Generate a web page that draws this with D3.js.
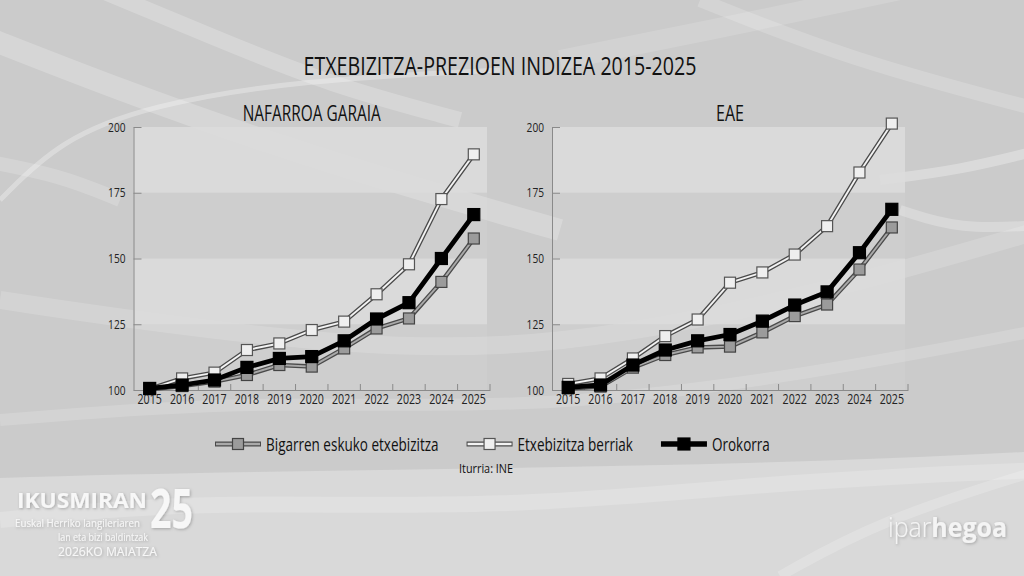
<!DOCTYPE html>
<html>
<head>
<meta charset="utf-8">
<script src="https://cdn.jsdelivr.net/npm/d3@7"></script>
<style>
  body { margin: 0; background: #cccccc; }
  svg { display: block; }
  text { font-family: "Open Sans", sans-serif; }
</style>
</head>
<body>
<div id="chart"></div>
<script>
// Datuak: etxebizitza-prezioen indizea (2015 = 100)
const years = ['2015', '2016', '2017', '2018', '2019', '2020', '2021', '2022', '2023', '2024', '2025'];
const seriesNames = ['Bigarren eskuko etxebizitza', 'Etxebizitza berriak', 'Orokorra'];
const yTicks = [100, 125, 150, 175, 200];

const nafarroaBigarren = [100.3, 101.5, 103.2, 105.7, 109.5, 108.9, 115.8, 123.4, 127.2, 141.1, 157.6];
const nafarroaBerriak  = [100.4, 104.4, 106.6, 115.2, 117.7, 122.8, 126.0, 136.4, 147.8, 172.6, 189.6];
const nafarroaOrokorra = [100.6, 101.9, 103.8, 108.6, 112.0, 112.7, 118.7, 127.0, 133.2, 150.0, 166.7];

const eaeBigarren = [100.6, 101.3, 108.5, 113.3, 116.2, 116.5, 121.9, 128.1, 132.5, 145.8, 161.8];
const eaeBerriak  = [102.3, 104.4, 112.0, 120.5, 126.8, 140.8, 144.7, 151.5, 162.3, 182.7, 201.3];
const eaeOrokorra = [101.0, 101.9, 109.5, 115.2, 118.7, 121.1, 126.2, 132.3, 137.3, 152.2, 168.7];

const W = 1024, H = 576;

// estiloak serie bakoitzeko
const styles = [
    { outer: '#4a4a4a', inner: '#a9a9a9', width: 4.5, fill: '#9b9b9b', stroke: '#444', size: 11 },
    { outer: '#4a4a4a', inner: '#f3f3f3', width: 4.5, fill: '#efefef', stroke: '#555', size: 11 },
    { outer: '#000000', inner: null, width: 4.8, fill: '#000000', stroke: '#000', size: 12 }
];

const svg = d3.select('#chart')
    .append('svg')
    .attr('width', W)
    .attr('height', H);

// textua estutu (letra-mota kondentsatua imitatzeko)
function condense(sel, k) {
    sel.each(function () {
        const w = this.getComputedTextLength();
        this.setAttribute('textLength', w * k);
        this.setAttribute('lengthAdjust', 'spacingAndGlyphs');
    });
}
function fit(sel, w) {
    sel.attr('textLength', w).attr('lengthAdjust', 'spacingAndGlyphs');
}

// Atzealdea
svg.append('rect').attr('width', W).attr('height', H).attr('fill', '#cbcbcb');
const wave = d3.line().curve(d3.curveBasis);
svg.append('path')
    .attr('d', 'M0,478 C300,468 700,470 1024,452 L1024,576 L0,576 Z')
    .attr('fill', '#d9d9d9');

const waves = [
    { pts: [[-20, 35], [120, 90], [260, 140], [420, 190], [560, 230]], w: 22, o: 0.22 },
    { pts: [[100, -10], [220, 40], [330, 85], [460, 120]], w: 16, o: 0.22 },
    { pts: [[0, 200], [60, 140], [150, 105], [300, 80], [500, 70]], w: 5, o: 0.3 },
    { pts: [[-20, 160], [60, 175], [120, 200]], w: 14, o: 0.18 },
    { pts: [[0, 300], [200, 330], [500, 360], [800, 300], [1040, 230]], w: 18, o: 0.16 },
    { pts: [[0, 420], [250, 400], [520, 410], [780, 380], [1040, 330]], w: 12, o: 0.16 },
    { pts: [[880, 180], [960, 170], [1040, 150]], w: 10, o: 0.3 },
    { pts: [[900, 210], [960, 230], [1040, 225]], w: 10, o: 0.25 },
    { pts: [[560, 60], [760, 20], [900, -10]], w: 20, o: 0.14 },
    { pts: [[700, 0], [850, 60], [1040, 110]], w: 14, o: 0.18 },
    { pts: [[0, 520], [200, 500], [500, 510], [800, 480], [1040, 470]], w: 16, o: 0.18 },
    { pts: [[780, 576], [880, 520], [1040, 470]], w: 10, o: 0.2 }
];
svg.append('g').selectAll('path')
    .data(waves)
    .enter()
    .append('path')
    .attr('d', d => wave(d.pts))
    .attr('fill', 'none')
    .attr('stroke', '#ffffff')
    .attr('stroke-opacity', d => d.o)
    .attr('stroke-width', d => d.w);

// Izenburua
svg.append('text')
    .attr('x', 500).attr('y', 75)
    .attr('text-anchor', 'middle')
    .attr('font-size', 26)
    .attr('fill', '#111')
    .text('ETXEBIZITZA-PREZIOEN INDIZEA 2015-2025')
    .call(fit, 393);

const y = d3.scaleLinear().domain([100, 200]).range([390, 127]);

const panels = [
    { title: 'NAFARROA GARAIA', titleW: 138, left: 133.5, right: 490, values: [nafarroaBigarren, nafarroaBerriak, nafarroaOrokorra] },
    { title: 'EAE', titleW: 28, left: 552, right: 908, values: [eaeBigarren, eaeBerriak, eaeOrokorra] }
];

panels.forEach(p => drawPanel(p));

function drawPanel(p) {
    const g = svg.append('g');
    const x = d3.scaleBand().domain(years).range([p.left, p.right]).padding(0);
    const cx = d => x(d) + x.bandwidth() / 2;

    // banda argiak
    const bands = [[200, 175], [175, 150], [150, 125], [125, 100]];
    g.selectAll('rect.band')
        .data(bands)
        .enter()
        .append('rect')
        .attr('class', 'band')
        .attr('x', p.left)
        .attr('y', d => y(d[0]))
        .attr('width', p.right - p.left - 3)
        .attr('height', d => y(d[1]) - y(d[0]))
        .attr('fill', (d, i) => i % 2 === 0 ? '#dcdcdc' : '#ffffff')
        .attr('fill-opacity', (d, i) => i % 2 === 0 ? 0.9 : 0.06);

    // azpititulua
    g.append('text')
        .attr('x', (p.left + p.right) / 2)
        .attr('y', 121)
        .attr('text-anchor', 'middle')
        .attr('font-size', 22)
        .attr('fill', '#111')
        .text(p.title)
        .call(fit, p.titleW);

    // Y ardatza
    const yAxis = g.append('g')
        .attr('transform', `translate(${p.left},0)`)
        .call(d3.axisLeft(y).tickValues(yTicks).tickSize(-8).tickSizeOuter(0).tickPadding(8));
    yAxis.selectAll('path, line').attr('stroke', '#8a8a8a');
    yAxis.selectAll('text')
        .attr('font-size', 13)
        .attr('fill', '#222')
        .attr('font-family', '"Open Sans", sans-serif')
        .call(condense, 0.78);

    // X ardatza
    const xAxis = g.append('g')
        .attr('transform', 'translate(0,390)')
        .call(d3.axisBottom(x).tickSize(0).tickSizeOuter(0).tickPadding(4));
    xAxis.select('path').attr('stroke', '#8a8a8a');
    xAxis.selectAll('text')
        .attr('font-size', 14)
        .attr('fill', '#222')
        .attr('font-family', '"Open Sans", sans-serif')
        .call(condense, 0.76);
    g.selectAll('line.xtick')
        .data(years)
        .enter()
        .append('line')
        .attr('class', 'xtick')
        .attr('x1', d => x(d) + x.bandwidth())
        .attr('x2', d => x(d) + x.bandwidth())
        .attr('y1', 390)
        .attr('y2', 384)
        .attr('stroke', '#8a8a8a');

    // lerroak eta markak
    const line = d3.line()
        .x((d, i) => cx(years[i]))
        .y(d => y(d));

    p.values.forEach((vals, si) => {
        const st = styles[si];
        g.append('path')
            .datum(vals)
            .attr('d', line)
            .attr('fill', 'none')
            .attr('stroke', st.outer)
            .attr('stroke-width', st.width)
            .attr('stroke-linejoin', 'round');
        if (st.inner) {
            g.append('path')
                .datum(vals)
                .attr('d', line)
                .attr('fill', 'none')
                .attr('stroke', st.inner)
                .attr('stroke-width', st.width - 2.6)
                .attr('stroke-linejoin', 'round');
        }
        g.selectAll(null)
            .data(vals)
            .enter()
            .append('rect')
            .attr('x', (d, i) => cx(years[i]) - st.size / 2)
            .attr('y', d => y(d) - st.size / 2)
            .attr('width', st.size)
            .attr('height', st.size)
            .attr('fill', st.fill)
            .attr('stroke', st.stroke)
            .attr('stroke-width', 1.2);
    });
}

// Legenda
const legend = svg.append('g').attr('transform', 'translate(215,444)');
let lx = 0;
seriesNames.forEach((name, i) => {
    const st = styles[i];
    const item = legend.append('g').attr('transform', `translate(${lx},0)`);
    item.append('line')
        .attr('x1', 0).attr('x2', 46)
        .attr('stroke', st.outer).attr('stroke-width', st.width + 0.5);
    if (st.inner) {
        item.append('line')
            .attr('x1', 1).attr('x2', 45)
            .attr('stroke', st.inner).attr('stroke-width', st.width - 2.1);
    }
    item.append('rect')
        .attr('x', 23 - st.size / 2).attr('y', -st.size / 2)
        .attr('width', st.size).attr('height', st.size)
        .attr('fill', st.fill).attr('stroke', st.stroke).attr('stroke-width', 1.2);
    const t = item.append('text')
        .attr('x', 51).attr('y', 6.5)
        .attr('font-size', 18)
        .attr('fill', '#111')
        .text(name)
        .call(condense, 0.75);
    lx += 51 + +t.attr('textLength') + 28;
});

// Iturria
svg.append('text')
    .attr('x', 486).attr('y', 473)
    .attr('text-anchor', 'middle')
    .attr('font-size', 13)
    .attr('fill', '#111')
    .text('Iturria: INE')
    .call(fit, 54);

// Logoak
const shadow = svg.append('defs').append('filter').attr('id', 'sh');
shadow.append('feDropShadow').attr('dx', 1).attr('dy', 1).attr('stdDeviation', 1.5)
    .attr('flood-color', '#000').attr('flood-opacity', 0.25);

const logo = svg.append('g').attr('filter', 'url(#sh)').attr('fill', '#f7f7f7');
logo.append('text').attr('x', 17).attr('y', 508)
    .attr('font-size', 21).attr('font-weight', 700)
    .text('IKUSMIRAN').call(fit, 130);
logo.append('text').attr('x', 150).attr('y', 528)
    .attr('font-size', 54).attr('font-weight', 700)
    .text('25').call(fit, 43);
logo.append('text').attr('x', 15).attr('y', 527)
    .attr('font-size', 10)
    .text('Euskal Herriko langileriaren').call(fit, 125);
logo.append('text').attr('x', 58).attr('y', 541)
    .attr('font-size', 10)
    .text('lan eta bizi baldintzak').call(fit, 90);
logo.append('text').attr('x', 58).attr('y', 556)
    .attr('font-size', 12)
    .text('2026KO MAIATZA').call(fit, 99);

const ih = svg.append('text')
    .attr('x', 888).attr('y', 537)
    .attr('font-size', 27)
    .attr('fill', '#f4f4f4')
    .attr('filter', 'url(#sh)');
ih.append('tspan').attr('font-weight', 300).text('ipar');
ih.append('tspan').attr('font-weight', 700).text('hegoa');
ih.call(fit, 119);
</script>
</body>
</html>
